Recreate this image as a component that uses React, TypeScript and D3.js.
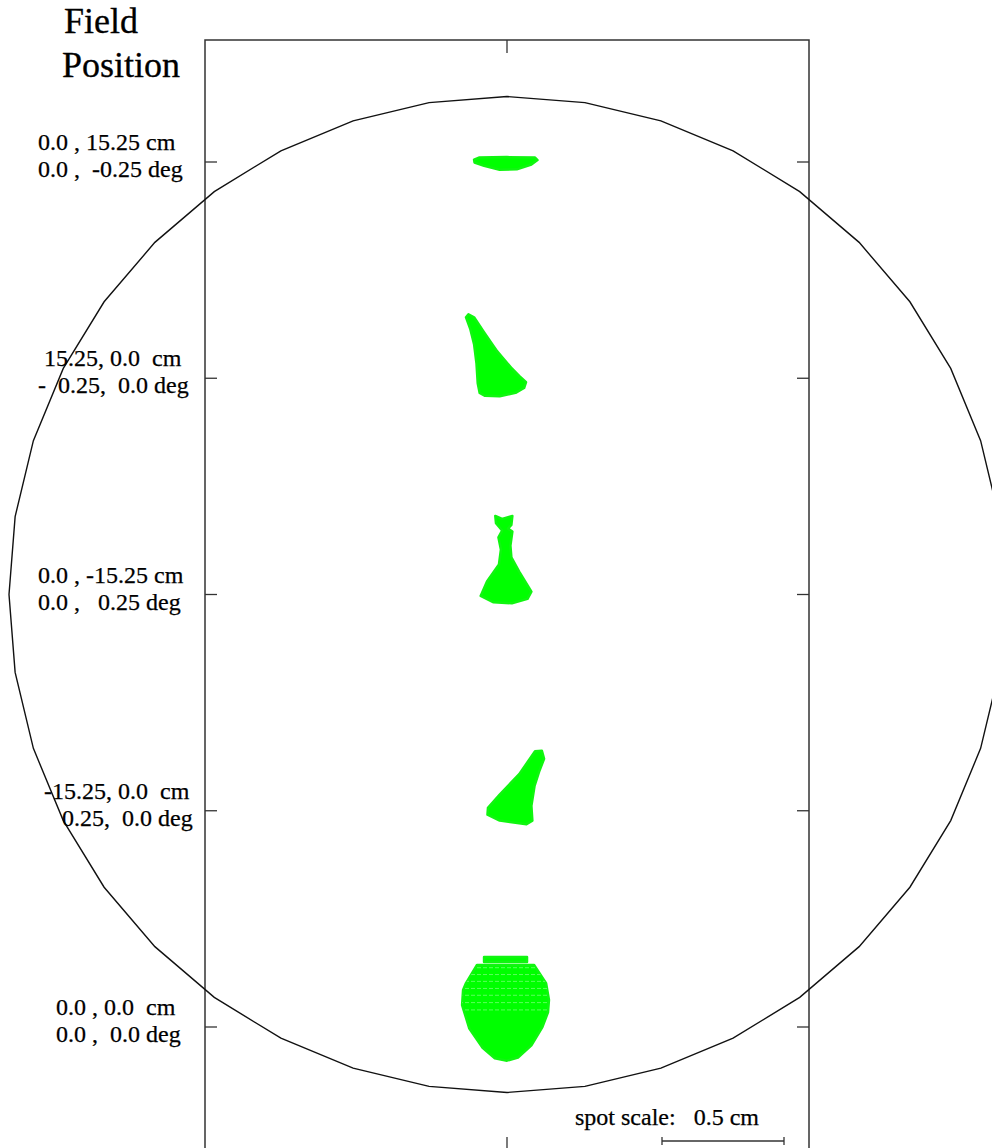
import * as d3 from 'd3';

// field positions, top to bottom
const fieldCmLabels = ['0.0 , 15.25 cm', ' 15.25, 0.0  cm', '0.0 , -15.25 cm', ' -15.25, 0.0  cm', '   0.0 , 0.0  cm'];
const fieldDegLabels = ['0.0 ,  -0.25 deg', '-  0.25,  0.0 deg', '0.0 ,   0.25 deg', '    0.25,  0.0 deg', '   0.0 ,  0.0 deg'];

// spot outlines, cm relative to the chief ray (x right, y up)
const spotTop: [number, number][] = [
  [-0.135, 0.01], [-0.115, 0.018], [0, 0.02], [0.115, 0.018], [0.125, 0.008],
  [0.1, -0.01], [0.04, -0.03], [-0.03, -0.032], [-0.094, -0.016], [-0.133, -0.002],
];
const spotXPos: [number, number][] = [
  [-0.168, 0.25], [-0.15, 0.2], [-0.135, 0.14], [-0.125, 0.06], [-0.12, -0.02],
  [-0.112, -0.06], [-0.09, -0.072], [-0.03, -0.074], [0.035, -0.06], [0.07, -0.04],
  [0.078, -0.016], [0.05, 0.01], [0.02, 0.04], [-0.04, 0.11], [-0.095, 0.19],
  [-0.135, 0.25], [-0.158, 0.262],
];
const spotBottom: [number, number][] = [
  [-0.048, 0.322], [-0.02, 0.31], [0.008, 0.318], [0.022, 0.322], [0.018, 0.285],
  [0.004, 0.27], [0.022, 0.258], [0.014, 0.2], [0.018, 0.152], [0.05, 0.094],
  [0.1, 0.012], [0.084, -0.018], [0.02, -0.036], [-0.055, -0.032], [-0.108, -0.006],
  [-0.082, 0.053], [-0.033, 0.123], [-0.025, 0.184], [-0.035, 0.234], [-0.02, 0.262],
  [-0.045, 0.292],
];
const spotXNeg: [number, number][] = [
  [0.143, 0.246], [0.152, 0.213], [0.133, 0.164], [0.113, 0.102], [0.1, 0.02],
  [0.104, -0.041], [0.08, -0.055], [-0.03, -0.04], [-0.08, -0.016], [-0.078, 0.012],
  [-0.03, 0.066], [0.05, 0.15], [0.115, 0.244],
];
const spotAxis: [number, number][] = [
  [-0.123, 0.254], [0.111, 0.254], [0.16, 0.18], [0.172, 0.111], [0.168, 0.06],
  [0.145, 0.0], [0.1, -0.075], [0.045, -0.125], [0.0, -0.138], [-0.05, -0.128],
  [-0.1, -0.085], [-0.155, -0.005], [-0.184, 0.09], [-0.18, 0.152], [-0.168, 0.18],
];
const spotAxisCap: [number, number][] = [
  [-0.094, 0.287], [0.082, 0.287], [0.082, 0.266], [-0.094, 0.266],
];
// ring rows visible inside the on-axis spot
const spotAxisRows = [0.243, 0.215, 0.187, 0.158, 0.13, 0.1, 0.07];

const spots = [[spotTop], [spotXPos], [spotBottom], [spotXNeg], [spotAxis, spotAxisCap]];

const spotScaleCm = 0.5;
const spotScaleLabel = 'spot scale:   0.5 cm';

const W = 992;
const H = 1148;

export default function App() {
  const left = 205;
  const right = 809;
  const top = 40;
  const bottom = 1152;
  const cx = (left + right) / 2;

  const fieldY = d3.scalePoint<number>().domain(d3.range(fieldCmLabels.length)).range([162, 1027]);
  const spotPx = d3.scaleLinear().domain([0, spotScaleCm]).range([0, 122]);

  const ring = { cx, cy: fieldY(2)!, r: 498 };
  const segs = 40;
  const ringPts: [number, number][] = d3.range(segs).map((i) => {
    const a = (i / segs) * 2 * Math.PI;
    return [ring.cx + ring.r * Math.sin(a), ring.cy - ring.r * Math.cos(a)];
  });
  const closed = d3.line().curve(d3.curveLinearClosed);
  const toPx = (i: number) => (pts: [number, number][]) =>
    pts.map(([x, y]) => [cx + spotPx(x), fieldY(i)! - spotPx(y)] as [number, number]);

  const barX0 = 662;
  const barX1 = barX0 + spotPx(spotScaleCm);
  const barY = 1141;

  const serif = '"Liberation Serif", "Times New Roman", serif';
  const axisPath = closed(toPx(4)(spotAxis))!;

  return (
    <svg
      width={W}
      height={H}
      style={{ position: 'absolute', left: 0, top: 0, background: '#fff' }}
      fontFamily={serif}
    >
      <defs>
        <clipPath id="axisClip">
          <path d={axisPath} />
        </clipPath>
      </defs>
      <rect x={0} y={0} width={W} height={H} fill="#fff" />

      {/* title */}
      <g fontSize={36} fill="#000" stroke="#000" strokeWidth={0.3}>
        <text x={64} y={33}>Field</text>
        <text x={62} y={77}>Position</text>
      </g>

      {/* frame */}
      <rect x={left} y={top} width={right - left} height={bottom - top} fill="none" stroke="#333" strokeWidth={1.5} />
      <line x1={cx} x2={cx} y1={top} y2={top + 13} stroke="#333" strokeWidth={1.3} />
      <line x1={cx} x2={cx} y1={H - 11} y2={bottom} stroke="#333" strokeWidth={1.3} />
      {fieldCmLabels.map((_, i) => (
        <g key={'t' + i}>
          <line x1={left} x2={left + 12} y1={fieldY(i)} y2={fieldY(i)} stroke="#333" strokeWidth={1.3} />
          <line x1={right - 12} x2={right} y1={fieldY(i)} y2={fieldY(i)} stroke="#333" strokeWidth={1.3} />
        </g>
      ))}

      {/* spots */}
      {spots.map((parts, i) =>
        parts.map((pts, j) => (
          <path
            key={`s${i}-${j}`}
            d={closed(toPx(i)(pts))!}
            fill="#00ff00"
            stroke="#11f511"
            strokeWidth={2.5}
            strokeLinejoin="round"
          />
        ))
      )}
      <g clipPath="url(#axisClip)" opacity={0.45}>
        {spotAxisRows.map((r, k) => {
          const y = fieldY(4)! - spotPx(r);
          return (
            <line key={'r' + k} x1={cx - 60} x2={cx + 60} y1={y} y2={y} stroke="#c8ffc8" strokeWidth={1} strokeDasharray="4 2" />
          );
        })}
      </g>

      {/* field circle */}
      <path d={closed(ringPts)!} fill="none" stroke="#111" strokeWidth={1.4} />

      {/* field labels */}
      {fieldCmLabels.map((t, i) => (
        <g key={'l' + i} fontSize={24} fill="#000" stroke="#000" strokeWidth={0.25}>
          <text x={38} y={fieldY(i)! - 12} xmlSpace="preserve" style={{ whiteSpace: 'pre' }}>{t}</text>
          <text x={38} y={fieldY(i)! + 15} xmlSpace="preserve" style={{ whiteSpace: 'pre' }}>{fieldDegLabels[i]}</text>
        </g>
      ))}

      {/* spot scale */}
      <text x={575} y={1125} fontSize={24} fill="#000" stroke="#000" strokeWidth={0.25} xmlSpace="preserve" style={{ whiteSpace: 'pre' }}>{spotScaleLabel}</text>
      <line x1={barX0} x2={barX1} y1={barY} y2={barY} stroke="#333" strokeWidth={1.5} />
      <line x1={barX0} x2={barX0} y1={barY - 4} y2={barY + 4} stroke="#333" strokeWidth={1.3} />
      <line x1={barX1} x2={barX1} y1={barY - 4} y2={barY + 4} stroke="#333" strokeWidth={1.3} />
    </svg>
  );
}
